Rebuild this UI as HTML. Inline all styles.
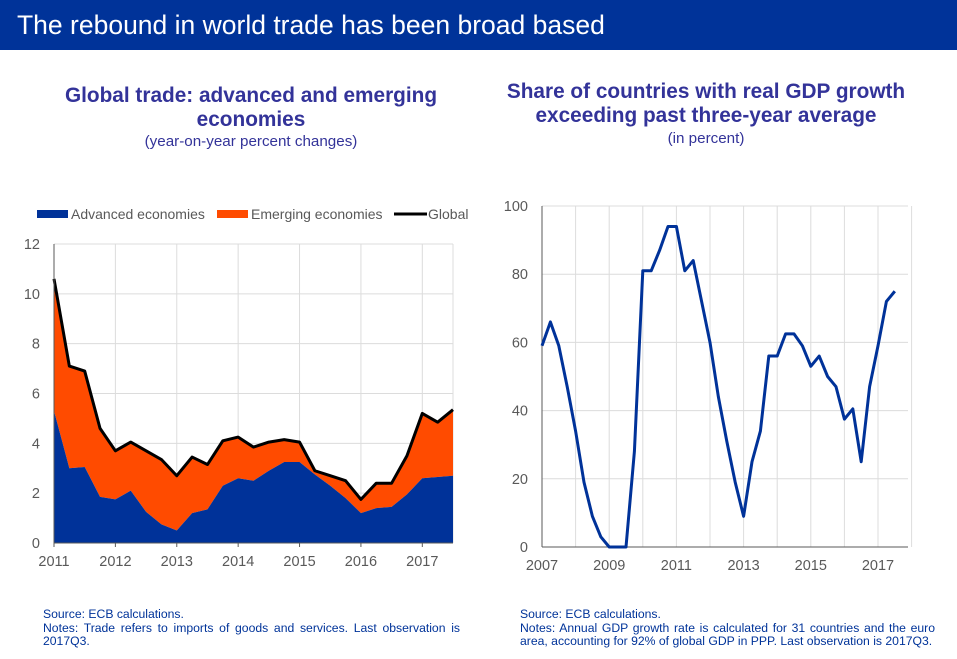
<!DOCTYPE html>
<html><head><meta charset="utf-8">
<style>
body{margin:0;width:957px;height:659px;background:#fff;font-family:"Liberation Sans",sans-serif;overflow:hidden;position:relative}
.bar{position:absolute;left:0;top:0;width:957px;height:50px;background:#003399;color:#fff;font-size:26.5px;line-height:50px;padding-left:17px;box-sizing:border-box}
.t{position:absolute;text-align:center;color:#333399;font-weight:bold;font-size:20.8px;line-height:24px}
.st{position:absolute;text-align:center;color:#333399;font-size:15.2px}
.note{position:absolute;color:#003399;font-size:12.2px;line-height:13.5px;text-align:justify;text-align-last:left}
svg{position:absolute;left:0;top:0}
</style></head><body>
<div class="bar">The rebound in world trade has been broad based</div>
<div class="t" style="left:26px;width:450px;top:84px">Global trade: advanced and emerging<br>economies</div>
<div class="st" style="left:26px;width:450px;top:133px">(year-on-year percent changes)</div>
<div class="t" style="left:476px;width:460px;top:80px">Share of countries with real GDP growth<br>exceeding past three-year average</div>
<div class="st" style="left:476px;width:460px;top:130px">(in percent)</div>
<div class="note" style="left:43px;width:417px;top:608px">Source: ECB calculations.<br>Notes: Trade refers to imports of goods and services. Last observation is 2017Q3.</div>
<div class="note" style="left:520px;width:415px;top:608px">Source: ECB calculations.<br>Notes: Annual GDP growth rate is calculated for 31 countries and the euro area, accounting for 92% of global GDP in PPP. Last observation is 2017Q3.</div>
<svg id="svg" width="957" height="659"></svg>
<script>
const tradeQuarters = 27; // 2011Q1..2017Q3
const globalVals = [10.6,7.1,6.9,4.6,3.7,4.05,3.7,3.35,2.7,3.45,3.15,4.1,4.25,3.85,4.05,4.15,4.05,2.9,2.7,2.5,1.75,2.4,2.4,3.5,5.2,4.85,5.35];
const advancedVals = [5.3,3.0,3.05,1.85,1.75,2.1,1.25,0.75,0.5,1.2,1.35,2.3,2.6,2.5,2.9,3.25,3.25,2.75,2.3,1.8,1.2,1.4,1.45,1.95,2.6,2.65,2.7];
const leftYTicks = [0,2,4,6,8,10,12];
const leftXTicks = ["2011","2012","2013","2014","2015","2016","2017"];
const gdpShare = [59,66,59,47,34,19,9,3,0,0,0,28,81,81,87,94,94,81,84,72,60,44,31,19,9,25,34,56,56,62.5,62.5,59,53,56,50,47,37.5,40.5,25,47,59,72,75];
const rightYTicks = [0,20,40,60,80,100];
const rightXTicks = ["2007","2009","2011","2013","2015","2017"];

const NS="http://www.w3.org/2000/svg", svg=document.getElementById('svg');
function mk(tag,attrs,parent){const e=document.createElementNS(NS,tag);for(const k in attrs)e.setAttribute(k,attrs[k]);(parent||svg).appendChild(e);return e;}

// LEFT chart
const L={x0:54,x1:453,y0:543,y1:244};
const lx=i=>L.x0+i*(L.x1-L.x0)/(tradeQuarters-1);
const ly=v=>L.y0-v*(L.y0-L.y1)/12;
leftYTicks.forEach(v=>{
  const g=mk('line',{x1:L.x0,x2:L.x1,y1:ly(v),y2:ly(v),stroke:'#dcdcdc','stroke-width':1});
  
  
  const t=mk('text',{x:40,y:ly(v)+5,'text-anchor':'end','font-size':14.5,fill:'#595959','font-family':'Liberation Sans'});
  t.textContent=v;
  
  
});
leftXTicks.forEach((lab,k)=>{
  const x=lx(k*4);
  const g=mk('line',{x1:x,x2:x,y1:L.y1,y2:L.y0,stroke:'#dcdcdc','stroke-width':1});
  
  
  const tk=mk('line',{x1:x,x2:x,y1:L.y0,y2:L.y0+4,stroke:'#595959'});
  
  
  const t=mk('text',{x:x,y:566,'text-anchor':'middle','font-size':14.5,fill:'#595959','font-family':'Liberation Sans'});
  t.textContent=lab;
  
  
});
mk('line',{x1:L.x1,x2:L.x1,y1:L.y1,y2:L.y0,stroke:'#dcdcdc'});
let eP='', aP='';
globalVals.forEach((v,i)=>{eP+=(i?'L':'M')+lx(i)+','+ly(v);});
for(let i=tradeQuarters-1;i>=0;i--)eP+='L'+lx(i)+','+ly(advancedVals[i]);
const em=mk('path',{d:eP+'Z',fill:'#ff4b00'});


advancedVals.forEach((v,i)=>{aP+=(i?'L':'M')+lx(i)+','+ly(v);});
aP+='L'+lx(tradeQuarters-1)+','+L.y0+'L'+L.x0+','+L.y0+'Z';
const ad=mk('path',{d:aP,fill:'#003299'});


let gP='';globalVals.forEach((v,i)=>{gP+=(i?'L':'M')+lx(i)+','+ly(v);});
const gl=mk('path',{d:gP,fill:'none',stroke:'#000','stroke-width':3,'stroke-linejoin':'round'});


mk('line',{x1:L.x0,x2:L.x0,y1:L.y1,y2:L.y0,stroke:'#595959'});
mk('line',{x1:L.x0,x2:L.x1,y1:L.y0,y2:L.y0,stroke:'#595959'});
// legend
const leg=[['rect',37,'#003299','Advanced economies',71],['rect',217,'#ff4b00','Emerging economies',251],['line',394,'#000','Global',428]];
leg.forEach(l=>{
  let m;
  if(l[0]==='rect') m=mk('rect',{x:l[1],y:210,width:31,height:8,fill:l[2]});
  else m=mk('line',{x1:l[1],x2:l[1]+33,y1:214,y2:214,stroke:'#000','stroke-width':3});
  
  
  const t=mk('text',{x:l[4],y:219,'font-size':14,fill:'#595959','font-family':'Liberation Sans'});
  t.textContent=l[3];
  
  
});

// RIGHT chart
const R={x0:542,x1:908,y0:547,y1:206,perYear:33.6};
const rx=i=>R.x0+i*R.perYear/4;
const ry=v=>R.y0-v*(R.y0-R.y1)/100;
rightYTicks.forEach(v=>{
  const g=mk('line',{x1:R.x0,x2:R.x1,y1:ry(v),y2:ry(v),stroke:'#dcdcdc'});
  
  
  const t=mk('text',{x:528,y:ry(v)+5,'text-anchor':'end','font-size':14.5,fill:'#595959','font-family':'Liberation Sans'});
  t.textContent=v;
  
  
});
for(let y=0;y<=11;y++){
  const x=R.x0+y*R.perYear;
  const g=mk('line',{x1:x,x2:x,y1:R.y1,y2:R.y0,stroke:'#dcdcdc'});
  
  
}
rightXTicks.forEach((lab,k)=>{
  const x=R.x0+k*2*R.perYear;
  const t=mk('text',{x:x,y:570,'text-anchor':'middle','font-size':14.5,fill:'#595959','font-family':'Liberation Sans'});
  t.textContent=lab;
  
  
});
mk('line',{x1:R.x0,x2:R.x0,y1:R.y1,y2:R.y0,stroke:'#595959'});
mk('line',{x1:R.x0,x2:R.x1,y1:R.y0,y2:R.y0,stroke:'#595959'});
let rP='';gdpShare.forEach((v,i)=>{rP+=(i?'L':'M')+rx(i)+','+ry(v);});
const rl=mk('path',{d:rP,fill:'none',stroke:'#003299','stroke-width':3,'stroke-linejoin':'round'});


</script>
</body></html>
